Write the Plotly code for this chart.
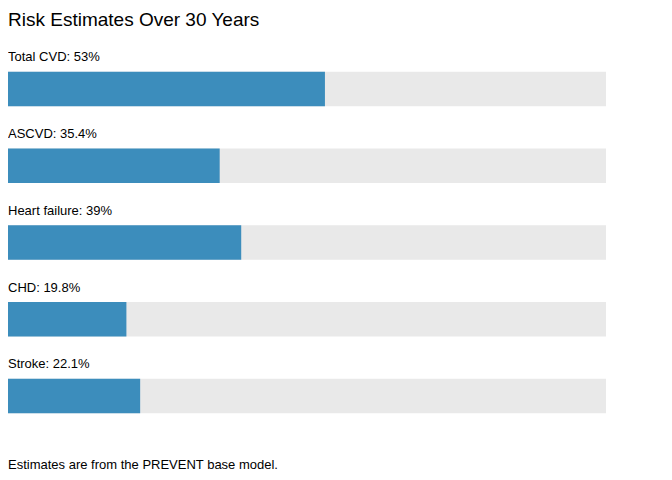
import plotly.graph_objects as go

# risk estimates, percent over 30 years
outcomes = ['Total CVD', 'ASCVD', 'Heart failure', 'CHD', 'Stroke']
risk_pct = [53, 35.4, 39, 19.8, 22.1]
label_txt = ['53%', '35.4%', '39%', '19.8%', '22.1%']

pos = list(range(len(outcomes)))
font_family = 'Liberation Sans, Arial, sans-serif'

# page body adds 8px around the figure
W, H = 664, 472
top, bottom = 22, 40

fig = go.Figure()

# grey track behind each bar
fig.add_trace(go.Bar(
    y=pos, x=[100] * len(pos), orientation='h',
    width=0.45, marker=dict(color='#e9e9e9', line=dict(width=0)),
    hoverinfo='skip', showlegend=False
))

fig.add_trace(go.Bar(
    y=pos, x=risk_pct, orientation='h',
    width=0.45, marker=dict(color='#3c8dbc', line=dict(width=0)),
    showlegend=False
))

annotations = []
for i, (name, lab) in enumerate(zip(outcomes, label_txt)):
    annotations.append(dict(
        x=0, y=i - 0.42, xref='x', yref='y',
        text=f'{name}: {lab}', showarrow=False,
        xanchor='left', yanchor='middle', xshift=-2,
        font=dict(size=13, color='#000000', family=font_family)
    ))

plot_h = H - top - bottom
annotations.append(dict(
    x=0, y=(H - bottom - 456) / plot_h, xref='paper', yref='paper',
    text='Estimates are from the PREVENT base model.', showarrow=False,
    xanchor='left', yanchor='middle', xshift=-2,
    font=dict(size=13, color='#000000', family=font_family)
))

fig.update_layout(
    barmode='overlay',
    width=W, height=H,
    title=dict(
        text='Risk Estimates Over 30 Years',
        x=0, xref='container', xanchor='left',
        y=1 - 11 / H, yref='container', yanchor='middle',
        font=dict(size=19, color='#000000', family=font_family)
    ),
    xaxis=dict(range=[0, 100], visible=False, fixedrange=True),
    yaxis=dict(range=[4.573, -0.769], visible=False, fixedrange=True),
    annotations=annotations,
    plot_bgcolor='white',
    paper_bgcolor='white',
    margin=dict(l=0, r=66, t=top, b=bottom),
    font=dict(family=font_family)
)

fig.write_html('out.html')
